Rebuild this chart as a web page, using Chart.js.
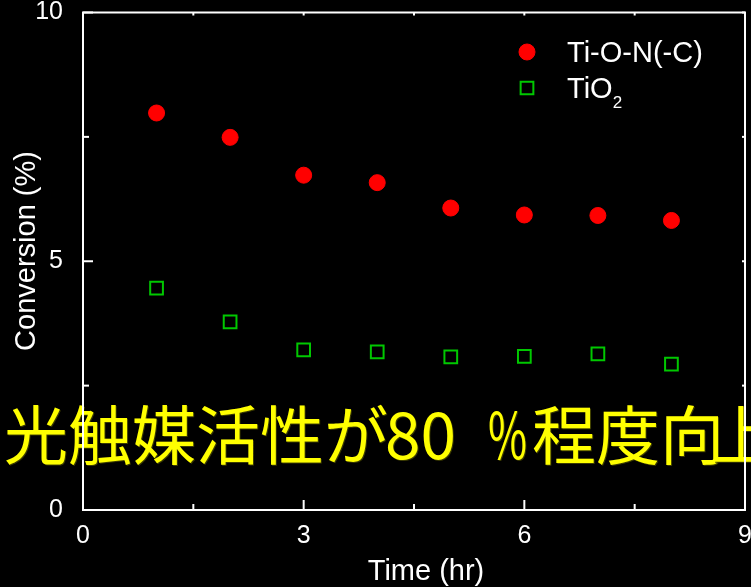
<!DOCTYPE html>
<html>
<head>
<meta charset="utf-8">
<script src="https://cdn.jsdelivr.net/npm/chart.js@4.4.1/dist/chart.umd.min.js"></script>
<style>
  html, body { margin: 0; padding: 0; background: #000; overflow: hidden; }
  #wrap { width: 751px; height: 587px; position: relative; }
</style>
</head>
<body>
<div id="wrap"><canvas id="c" width="751" height="587"></canvas></div>
<script>
// Conversion over time for the two photocatalysts
const timeHours = [1, 2, 3, 4, 5, 6, 7, 8];
const conversionTiON = [7.98, 7.49, 6.73, 6.58, 6.07, 5.93, 5.92, 5.82];
const conversionTiO2 = [4.46, 3.78, 3.22, 3.18, 3.08, 3.09, 3.14, 2.93];
const seriesNames = ['Ti-O-N(-C)', 'TiO2'];

// Axis ticks and labels
const xMajorTicks = [0, 3, 6, 9];
const xMinorTicks = [1.5, 4.5, 7.5];
const yMajorTicks = [0, 5, 10];
const yMinorTicks = [2.5, 7.5];
const xTitle = 'Time (hr)';
const yTitle = 'Conversion (%)';
// caption, split where the spacing between scripts changes
const headlineParts = ['光触媒活性が', '80', '%', '程度向', '上'];
const headlineX = [4, 385, 488, 532, 711];

const LATIN = '"Liberation Sans", Arial, sans-serif';
const RED = '#ff0000';
const GREEN = '#00c800';

const toPoints = (xs, ys) => xs.map((x, i) => ({ x, y: ys[i] }));

// Yellow caption drawn underneath the data and frame
const headlinePlugin = {
  id: 'headline',
  beforeDatasetsDraw(chart) {
    const ctx = chart.ctx;
    const base = 459;
    ctx.save();
    ctx.font = '64px "Noto Sans CJK JP", sans-serif';
    ctx.textAlign = 'left';
    ctx.textBaseline = 'alphabetic';
    ctx.shadowColor = '#3a3a00';
    ctx.shadowOffsetX = 1;
    ctx.shadowOffsetY = 1;
    ctx.fillStyle = '#ffff00';
    headlineParts.forEach((t, i) => {
      if (t === '%') {
        // narrow percent sign
        const w = ctx.measureText(t).width;
        ctx.save();
        ctx.translate(headlineX[i], base);
        ctx.scale(39 / w, 1);
        ctx.fillText(t, 0, 0);
        ctx.restore();
      } else {
        ctx.fillText(t, headlineX[i], base);
      }
    });
    ctx.restore();
  }
};

// Box frame with inward tick marks, x labels, axis titles and legend
const framePlugin = {
  id: 'frame',
  afterDatasetsDraw(chart) {
    const { ctx, chartArea: a, scales: { x, y } } = chart;
    ctx.save();
    ctx.strokeStyle = '#ffffff';
    ctx.lineWidth = 2;
    ctx.strokeRect(a.left, a.top, a.right - a.left, a.bottom - a.top);
    const seg = (x1, y1, x2, y2) => { ctx.beginPath(); ctx.moveTo(x1, y1); ctx.lineTo(x2, y2); ctx.stroke(); };
    xMajorTicks.forEach(v => { const p = x.getPixelForValue(v); seg(p, a.bottom, p, a.bottom - 10); seg(p, a.top, p, a.top + 3); });
    xMinorTicks.forEach(v => { const p = x.getPixelForValue(v); seg(p, a.bottom, p, a.bottom - 6); seg(p, a.top, p, a.top + 3); });
    yMajorTicks.forEach(v => { const p = y.getPixelForValue(v); seg(a.left, p, a.left + 10, p); seg(a.right, p, a.right - 3, p); });
    yMinorTicks.forEach(v => { const p = y.getPixelForValue(v); seg(a.left, p, a.left + 6, p); seg(a.right, p, a.right - 3, p); });

    // x tick labels
    ctx.fillStyle = '#ffffff';
    ctx.font = '25px ' + LATIN;
    ctx.textAlign = 'center';
    ctx.textBaseline = 'alphabetic';
    xMajorTicks.forEach(v => ctx.fillText(String(v), x.getPixelForValue(v), a.bottom + 33));

    // axis titles
    ctx.font = '29px ' + LATIN;
    ctx.fillText(xTitle, 426, 580);
    ctx.save();
    ctx.translate(35, 251);
    ctx.rotate(-Math.PI / 2);
    ctx.fillText(yTitle, 0, 0);
    ctx.restore();

    // legend
    const ds = chart.data.datasets;
    const rows = [52, 88];
    ds.forEach((d, i) => {
      const cy = rows[i], cx = 527;
      ctx.save();
      ctx.fillStyle = d.pointBackgroundColor;
      ctx.strokeStyle = d.pointBorderColor;
      ctx.lineWidth = d.pointBorderWidth;
      Chart.helpers.drawPoint(ctx, {
        pointStyle: d.pointStyle, rotation: 0,
        radius: d.pointRadius, borderWidth: d.pointBorderWidth
      }, cx, cy);
      ctx.restore();
      ctx.save();
      ctx.fillStyle = '#ffffff';
      ctx.textAlign = 'left';
      ctx.textBaseline = 'alphabetic';
      const m = /^(.*?)(\d+)$/.exec(d.label);
      const baseY = cy + 10;
      ctx.font = '29px ' + LATIN;
      if (m) {
        ctx.fillText(m[1], 567, baseY);
        const w = ctx.measureText(m[1]).width;
        ctx.font = '17px ' + LATIN;
        ctx.fillText(m[2], 567 + w, baseY + 10);
      } else {
        ctx.fillText(d.label, 567, baseY);
      }
      ctx.restore();
    });
    ctx.restore();
  }
};

new Chart(document.getElementById('c'), {
  type: 'scatter',
  data: {
    datasets: [
      {
        label: seriesNames[0],
        data: toPoints(timeHours, conversionTiON),
        pointStyle: 'circle',
        pointRadius: 8,
        pointBorderWidth: 1,
        pointBackgroundColor: RED,
        pointBorderColor: RED,
        showLine: false
      },
      {
        label: seriesNames[1],
        data: toPoints(timeHours, conversionTiO2),
        pointStyle: 'rect',
        pointRadius: 9,
        pointBorderWidth: 2,
        pointBackgroundColor: 'rgba(0,0,0,0)',
        pointBorderColor: GREEN,
        showLine: false
      }
    ]
  },
  options: {
    responsive: false,
    animation: false,
    events: [],
    devicePixelRatio: 1,
    layout: { autoPadding: false, padding: { top: 12.5, right: 6, bottom: 0, left: 0 } },
    plugins: { legend: { display: false }, tooltip: { enabled: false } },
    scales: {
      x: {
        type: 'linear',
        min: 0, max: 9,
        grid: { display: false },
        border: { display: false },
        ticks: { display: false, stepSize: 3 },
        afterFit(s) { s.height = 77; s.paddingLeft = 0; s.paddingRight = 0; }
      },
      y: {
        type: 'linear',
        min: 0, max: 10,
        grid: { display: false },
        border: { display: false },
        ticks: {
          stepSize: 5,
          color: '#ffffff',
          font: { family: LATIN, size: 25 },
          padding: 12
        },
        afterFit(s) { s.width = 83; s.paddingTop = 0; s.paddingBottom = 0; }
      }
    }
  },
  plugins: [headlinePlugin, framePlugin]
});
</script>
</body>
</html>
